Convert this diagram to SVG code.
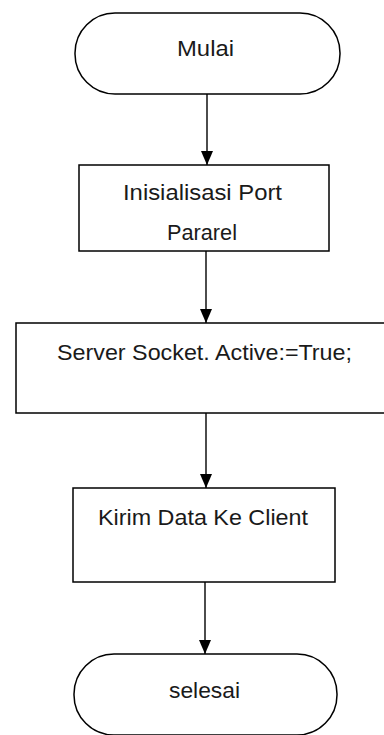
<svg xmlns="http://www.w3.org/2000/svg" width="384" height="735" viewBox="0 0 384 735">
<style>
.shape{fill:#ffffff;stroke:#000000;stroke-width:1.5}
.lbl{font-family:"Liberation Sans",Arial,sans-serif;font-size:22px;fill:#1a1a1a;text-anchor:middle}
.conn{stroke:#000000;stroke-width:1.4;fill:none;marker-end:url(#arrow)}
</style>
<defs>
<marker id="arrow" markerWidth="14" markerHeight="12" refX="14" refY="6" orient="auto" markerUnits="userSpaceOnUse" viewBox="0 0 14 12">
<path d="M0,0 L14,6 L0,12 Z" fill="#000000"/>
</marker>
</defs>
<rect width="384" height="735" fill="#ffffff"/>
<g id="connectors">
<line class="conn" x1="207" y1="94" x2="207" y2="165"/>
<line class="conn" x1="206" y1="251" x2="206" y2="323"/>
<line class="conn" x1="206" y1="413" x2="206" y2="488"/>
<line class="conn" x1="205" y1="582" x2="205" y2="654"/>
</g>
<g id="mulai">
<rect class="shape" x="75" y="13" width="265" height="81" rx="40" ry="40"/>
<text class="lbl" x="205.5" y="56" textLength="57" lengthAdjust="spacingAndGlyphs">Mulai</text>
</g>
<g id="inisialisasi">
<rect class="shape" x="79" y="165" width="250" height="86"/>
<text class="lbl" x="202.5" y="200" textLength="159" lengthAdjust="spacingAndGlyphs">Inisialisasi Port</text>
<text class="lbl" x="202" y="240" textLength="70" lengthAdjust="spacingAndGlyphs">Pararel</text>
</g>
<g id="server">
<rect class="shape" x="16" y="323" width="380" height="90"/>
<text class="lbl" x="204.5" y="360" textLength="295" lengthAdjust="spacingAndGlyphs">Server Socket. Active:=True;</text>
</g>
<g id="kirim">
<rect class="shape" x="73" y="488" width="262" height="94"/>
<text class="lbl" x="203" y="525" textLength="210" lengthAdjust="spacingAndGlyphs">Kirim Data Ke Client</text>
</g>
<g id="selesai">
<rect class="shape" x="74" y="654" width="263" height="81" rx="40" ry="40"/>
<text class="lbl" x="204.5" y="698" textLength="71" lengthAdjust="spacingAndGlyphs">selesai</text>
</g>
</svg>
